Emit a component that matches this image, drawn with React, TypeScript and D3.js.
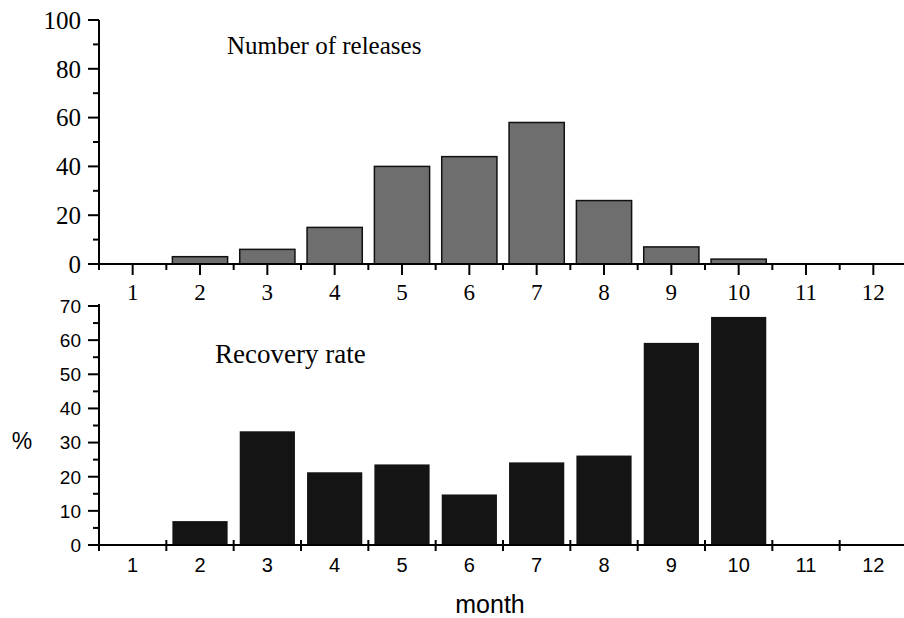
import { useMemo } from 'react';
import * as d3 from 'd3';

const months = [1, 2, 3, 4, 5, 6, 7, 8, 9, 10, 11, 12];
const releases = [0, 3, 6, 15, 40, 44, 58, 26, 7, 2, 0, 0];
const recoveryRate = [0, 7, 33.3, 21.3, 23.6, 14.8, 24.2, 26.2, 59.2, 66.8, 0, 0];
const releaseTicks = [0, 20, 40, 60, 80, 100];
const rateTicks = [0, 10, 20, 30, 40, 50, 60, 70];

const W = 904;
const H = 618;
const left = 99;
const right = 907;
const serif = '"Liberation Serif", "Times New Roman", serif';
const sans = '"Liberation Sans", Arial, sans-serif';

function App() {
  const x = useMemo(
    () =>
      d3
        .scaleBand<number>()
        .domain(months)
        .range([left, right])
        .paddingInner(0.18)
        .paddingOuter(0.09),
    [],
  );
  // month boundaries for the between-bar ticks
  const xb = d3.scaleLinear().domain([0.5, 12.5]).range([left, right]);
  const bounds = d3.range(0.5, 12.5, 1);

  const yTop = d3.scaleLinear().domain([0, 100]).range([264, 20]);
  const yBot = d3.scaleLinear().domain([0, 70]).range([545, 306]);

  const cx = (m: number) => (x(m) as number) + x.bandwidth() / 2;

  return (
    <svg
      width={W}
      height={H}
      style={{ position: 'absolute', left: 0, top: 0, background: '#fff' }}
    >
      {/* ---- top panel: number of releases ---- */}
      <g>
        {months.map((m, i) =>
          releases[i] > 0 ? (
            <rect
              key={m}
              x={x(m)}
              y={yTop(releases[i])}
              width={x.bandwidth()}
              height={yTop(0) - yTop(releases[i])}
              fill="#6e6e6e"
              stroke="#111"
              strokeWidth={1.5}
            />
          ) : null,
        )}
        <line x1={left} x2={W} y1={yTop(0)} y2={yTop(0)} stroke="#000" strokeWidth={2} />
        <line x1={left} x2={left} y1={yTop(100)} y2={yTop(0)} stroke="#000" strokeWidth={2} />
        {d3.range(0, 101, 10).map(v => (
          <line
            key={v}
            x1={left - (v % 20 === 0 ? 11 : 6)}
            x2={left}
            y1={yTop(v)}
            y2={yTop(v)}
            stroke="#000"
            strokeWidth={2}
          />
        ))}
        {releaseTicks.map(v => (
          <text
            key={v}
            x={81}
            y={yTop(v)}
            dy="0.35em"
            textAnchor="end"
            fontFamily={serif}
            fontSize={25}
          >
            {v}
          </text>
        ))}
        {bounds.map(b => (
          <line key={b} x1={xb(b)} x2={xb(b)} y1={yTop(0)} y2={yTop(0) + 6} stroke="#000" strokeWidth={2} />
        ))}
        {months.map(m => (
          <g key={m}>
            <line x1={cx(m)} x2={cx(m)} y1={yTop(0)} y2={yTop(0) + 11} stroke="#000" strokeWidth={2} />
            <text x={cx(m)} y={300} textAnchor="middle" fontFamily={serif} fontSize={23}>
              {m}
            </text>
          </g>
        ))}
        <text x={227} y={54} fontFamily={serif} fontSize={25}>
          Number of releases
        </text>
      </g>

      {/* ---- bottom panel: recovery rate ---- */}
      <g>
        {months.map((m, i) =>
          recoveryRate[i] > 0 ? (
            <rect
              key={m}
              x={x(m)}
              y={yBot(recoveryRate[i])}
              width={x.bandwidth()}
              height={yBot(0) - yBot(recoveryRate[i])}
              fill="#141414"
            />
          ) : null,
        )}
        <line x1={left} x2={W} y1={yBot(0)} y2={yBot(0)} stroke="#000" strokeWidth={2} />
        <line x1={left} x2={left} y1={yBot(70) - 2} y2={yBot(0)} stroke="#000" strokeWidth={2} />
        {d3.range(0, 71, 5).map(v => (
          <line
            key={v}
            x1={left - (v % 10 === 0 ? 11 : 6)}
            x2={left}
            y1={yBot(v)}
            y2={yBot(v)}
            stroke="#000"
            strokeWidth={2}
          />
        ))}
        {rateTicks.map(v => (
          <text
            key={v}
            x={81}
            y={yBot(v)}
            dy="0.36em"
            textAnchor="end"
            fontFamily={sans}
            fontSize={19}
          >
            {v}
          </text>
        ))}
        {bounds.map(b => (
          <line key={b} x1={xb(b)} x2={xb(b)} y1={yBot(0) - 5} y2={yBot(0) + 6} stroke="#000" strokeWidth={2} />
        ))}
        {months.map(m => (
          <text key={m} x={cx(m)} y={572} textAnchor="middle" fontFamily={sans} fontSize={20}>
            {m}
          </text>
        ))}
        <text x={215} y={363} fontFamily={serif} fontSize={27}>
          Recovery rate
        </text>
        <text x={22} y={449} textAnchor="middle" fontFamily={sans} fontSize={23}>
          %
        </text>
        <text x={490} y={613} textAnchor="middle" fontFamily={sans} fontSize={25}>
          month
        </text>
      </g>
    </svg>
  );
}

export default App;
